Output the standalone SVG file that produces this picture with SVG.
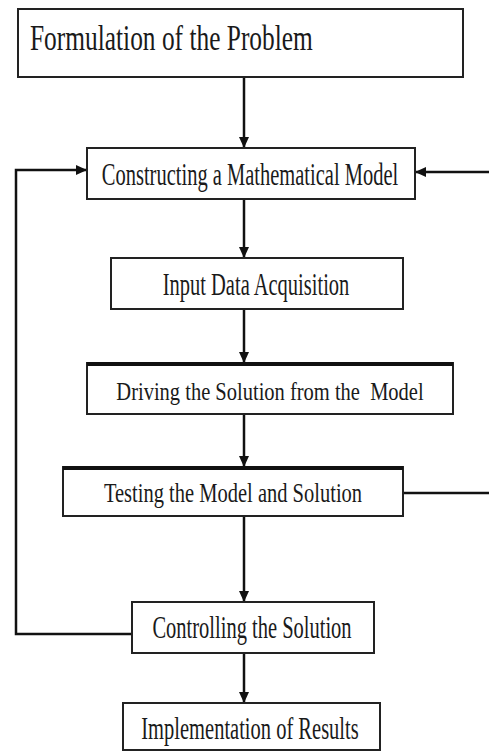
<svg xmlns="http://www.w3.org/2000/svg" width="489" height="753" viewBox="0 0 489 753">
<defs>
<marker id="ah" markerUnits="userSpaceOnUse" markerWidth="11" markerHeight="10" refX="11" refY="5" orient="auto">
<path d="M0,0 L11,5 L0,10 z" fill="#111"/>
</marker>
<style>
.box{fill:#fff;stroke:#222;stroke-width:2}
.thick{stroke:#111;stroke-width:4}
.t{font-family:"Liberation Serif","Times New Roman",serif;fill:#1a1a1a;text-anchor:middle;font-size:20.5px}
.c{fill:none;stroke:#111;stroke-width:2.5}
</style>
</defs>
<rect width="489" height="753" fill="#fff"/>
<g id="connectors">
<line class="c" x1="244" y1="77" x2="244" y2="148" marker-end="url(#ah)"/>
<line class="c" x1="244" y1="199" x2="244" y2="258" marker-end="url(#ah)"/>
<line class="c" x1="244" y1="309" x2="244" y2="363" marker-end="url(#ah)"/>
<line class="c" x1="244" y1="414" x2="244" y2="467" marker-end="url(#ah)"/>
<line class="c" x1="244" y1="516" x2="244" y2="602" marker-end="url(#ah)"/>
<line class="c" x1="244" y1="653" x2="244" y2="703" marker-end="url(#ah)"/>
<path class="c" d="M132,634 H16 V170 H87" marker-end="url(#ah)"/>
<path class="c" d="M403,493 H492 V172 H415" marker-end="url(#ah)"/>
</g>
<g id="n1">
<rect class="box" x="18" y="9" width="445" height="68"/>
<text class="t" transform="translate(30,50) scale(1,1.45)" style="text-anchor:start;font-size:25.4px">Formulation of the Problem</text>
</g>
<g id="n2">
<rect class="box" x="87" y="148" width="328" height="51"/>
<text class="t" transform="translate(250,185) scale(1,1.55)">Constructing a Mathematical Model</text>
</g>
<g id="n3">
<rect class="box" x="111" y="258" width="292" height="51"/>
<text class="t" transform="translate(256,295) scale(1,1.55)">Input Data Acquisition</text>
</g>
<g id="n4">
<rect class="box" x="87" y="363" width="366" height="51"/>
<line class="thick" x1="87" y1="364" x2="453" y2="364"/>
<text class="t" transform="translate(270,400) scale(1,1.28)" xml:space="preserve">Driving the Solution from the  Model</text>
</g>
<g id="n5">
<rect class="box" x="63" y="467" width="340" height="49"/>
<line class="thick" x1="63" y1="468" x2="403" y2="468"/>
<text class="t" transform="translate(233,502) scale(1,1.32)">Testing the Model and Solution</text>
</g>
<g id="n6">
<rect class="box" x="132" y="602" width="242" height="51"/>
<text class="t" transform="translate(252,638) scale(1,1.55)">Controlling the Solution</text>
</g>
<g id="n7">
<rect class="box" x="123" y="703" width="257" height="47"/>
<text class="t" transform="translate(250,739) scale(1,1.5)">Implementation of Results</text>
</g>
</svg>
